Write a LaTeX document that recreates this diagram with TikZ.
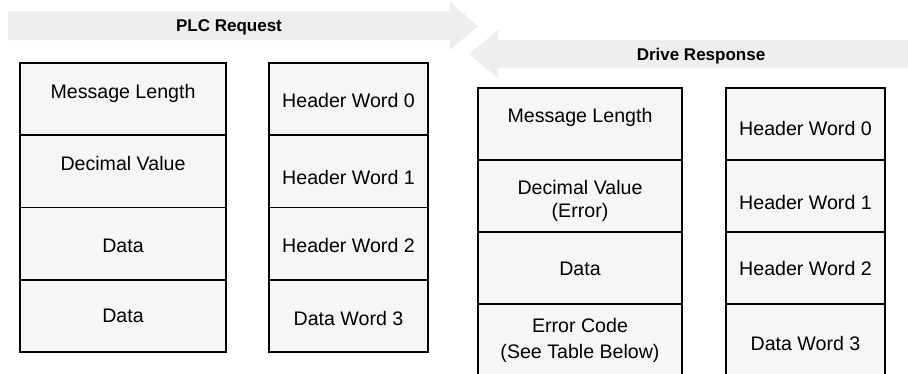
\documentclass[tikz,border=0pt]{standalone}
\usepackage{fontspec}
\setmainfont{Liberation Sans}
\usepackage{xcolor}
\usetikzlibrary{positioning}
\definecolor{cellgray}{HTML}{F6F6F6}
\definecolor{arrowgray}{HTML}{EEEEEE}

\begin{document}
\begin{tikzpicture}[x=1pt,y=-1pt,
    cell/.style={draw,fill=cellgray,line width=1.9pt,inner sep=0pt,anchor=north},
    word/.style={font=\fontsize{19.6}{23}\selectfont,align=center,anchor=base},
    banner/.style={font=\fontsize{17}{20}\selectfont\bfseries}]
        \clip (0,0) rectangle (908,373);
        % arrows
        \fill[arrowgray] (8,11) -- (450,11) -- (450,2) -- (478,26) -- (450,50) -- (450,40) -- (8,40) -- cycle;
        \fill[arrowgray] (908,40) -- (498,40) -- (498,30) -- (469,54) -- (498,78) -- (498,68) -- (908,68) -- cycle;
        \node[banner] (plc) at (229,27) {PLC Request};
        \node[banner] (drv) at (701,56) {Drive Response};
        % PLC request
        \foreach \r/\y in {1/62,2/134.25,3/206.5,4/278.75} {
          \node[cell,minimum width=206pt,minimum height=72.25pt] (reqA\r) at (123,\y) {};
          \node[cell,minimum width=159pt,minimum height=72.25pt] (reqB\r) at (348.5,\y) {};
        }
        \node[word] (reqA1t) at (123,98) {Message Length};
        \node[word] (reqA2t) at (123,170) {Decimal Value};
        \node[word] (reqA3t) at (123,252) {Data};
        \node[word] (reqA4t) at (123,322) {Data};
        \node[word] (reqB1t) at (348.5,107) {Header Word 0};
        \node[word] (reqB2t) at (348.5,184) {Header Word 1};
        \node[word] (reqB3t) at (348.5,252) {Header Word 2};
        \node[word] (reqB4t) at (348.5,325) {Data Word 3};
        % drive response
        \foreach \r/\y in {1/87,2/159,3/231,4/303} {
          \node[cell,minimum width=204pt,minimum height=72pt] (resC\r) at (580,\y) {};
          \node[cell,minimum width=159pt,minimum height=72pt] (resD\r) at (805.5,\y) {};
        }
        \node[word] (resC1t) at (580,122) {Message Length};
        \node[word,anchor=center] (resC2t) at (580,200.5) {Decimal Value\\(Error)};
        \node[word] (resC3t) at (580,275) {Data};
        \node[word,anchor=center] (resC4t) at (580,340) {Error Code\\[3pt](See Table Below)};
        \node[word] (resD1t) at (805.5,135) {Header Word 0};
        \node[word] (resD2t) at (805.5,209) {Header Word 1};
        \node[word] (resD3t) at (805.5,275) {Header Word 2};
        \node[word] (resD4t) at (805.5,350) {Data Word 3};
\end{tikzpicture}
\end{document}
